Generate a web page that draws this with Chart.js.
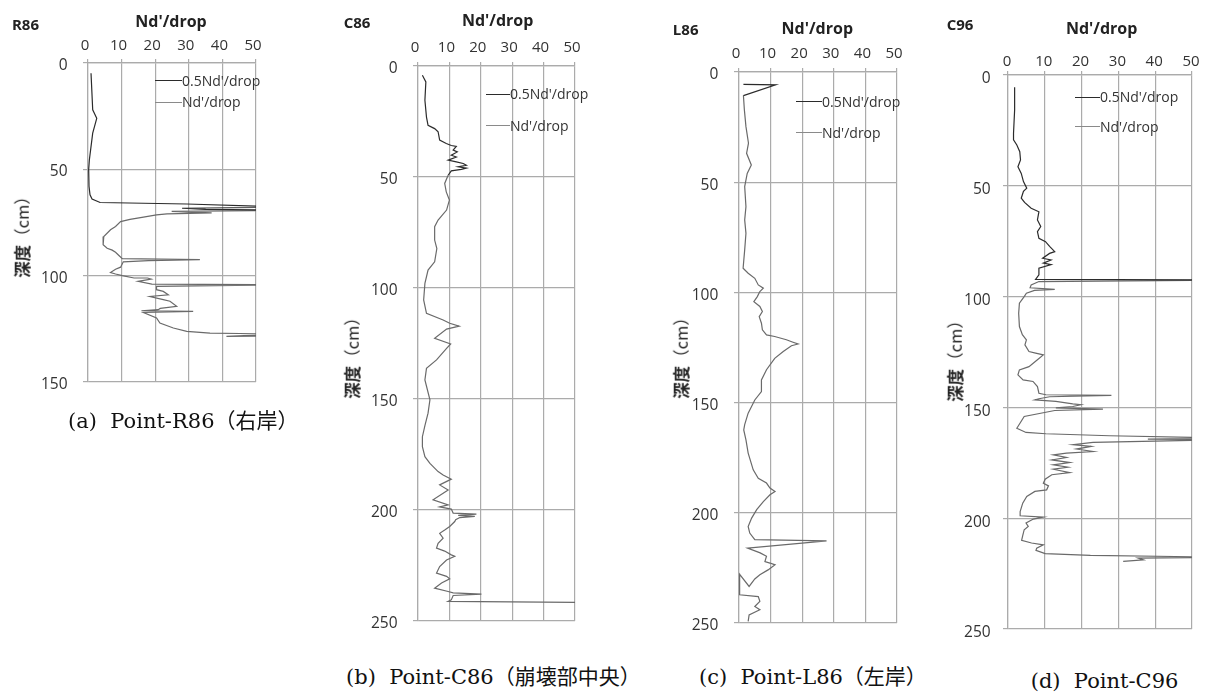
<!DOCTYPE html>
<html><head><meta charset="utf-8">
<script src="https://cdn.jsdelivr.net/npm/chart.js@4.4.1/dist/chart.umd.min.js"></script>
<style>
html,body{margin:0;padding:0;background:#fff;}
body{width:1208px;height:693px;position:relative;overflow:hidden;font-family:'Open Sans','Noto Sans',sans-serif;color:#222;}
canvas{position:absolute;z-index:1;}
.t{position:absolute;z-index:2;white-space:pre;line-height:1;transform:translate(-50%,-50%);}
.id{font-weight:700;font-size:15px;color:#222;}
.ttl{font-weight:700;font-size:16px;color:#222;}
.yt{font-family:'Noto Sans CJK JP',sans-serif;font-size:16.5px;color:#222;transform:translate(-50%,-50%) rotate(-90deg);}
.yt b{font-weight:700;}
.cap{position:absolute;z-index:2;white-space:pre;line-height:1;font-family:'DejaVu Serif','Noto Sans CJK JP',serif;font-size:21px;color:#111;transform:translateY(-50%);}
.lg{position:absolute;z-index:2;white-space:pre;line-height:1;font-size:14px;color:#333;transform:translateY(-50%);}
.ln{position:absolute;z-index:2;height:0;}
</style></head><body>
<script>
// ---------- text ----------
const panelIds = ['R86', 'C86', 'L86', 'C96'];
const captions = ['(a)  Point-R86（右岸）', '(b)  Point-C86（崩壊部中央）', '(c)  Point-L86（左岸）', '(d)  Point-C96'];
const seriesLabels = ["0.5Nd'/drop", "Nd'/drop"];
const valueTitle = "Nd'/drop";
const depthTitleMain = '深度';
const depthTitleUnit = '（cm）';

// ---------- ticks ----------
const valueTicks = [0, 10, 20, 30, 40, 50];
const depthTicks150 = [0, 50, 100, 150];
const depthTicks250 = [0, 50, 100, 150, 200, 250];

// ---------- data: R86 ----------
const r86HalfVal = [0.9, 1.4, 2.6, 1.4, 0.4, 0.2, 0.3, 0.6, 1.2, 3.6, 29.4, 60, 28, 35, 60];
const r86HalfDepth = [4.8, 22, 26, 33, 45.6, 50, 58, 62, 64, 65.6, 66.3, 67.8, 68.3, 68.8, 69.3];
const r86FullVal = [60, 24.9, 36.8, 23.5, 20.4, 16.5, 12.5, 9.7, 8.2, 6.7, 4.7, 4.5, 5.7, 7.2, 8.2, 9.2, 10.2, 33.3, 18, 10.5, 9.7, 8.2, 6.7, 8.2, 10.2, 13.7, 17.7, 18.8, 14.9, 19, 60, 20.4, 20.4, 22.4, 23.9, 18.4, 22.4, 24.4, 26.4, 21.5, 20.9, 15.9, 31.3, 16.5, 20.4, 21.4, 25.4, 29.4, 36.3, 45.2, 60, 41.2, 60];
const r86FullDepth = [69.3, 69.8, 70.5, 70.9, 71.4, 72.5, 73.5, 74.6, 76.9, 78.4, 81.6, 85.5, 87.1, 88, 89, 90.5, 92, 92.5, 92.9, 93.5, 96, 97, 98.5, 99.2, 100, 101.1, 101.1, 101.6, 102.7, 104, 104.3, 105, 106.6, 107.4, 109, 109.8, 111.3, 112, 114.4, 115.4, 116, 116.5, 116.8, 117.3, 119.9, 122.3, 124.6, 126.2, 127, 127.2, 127.6, 128.5, 128.3];

// ---------- data: C86 ----------
const c86HalfVal = [1.4, 2.5, 2.2, 2.7, 3.2, 5.3, 6.4, 6.9, 9.0, 10.6, 12.2, 11.2, 12.5, 10.6, 12.2, 9.6, 12.2, 14.4, 15.4, 12.8, 15.4, 13.8, 10.6, 9.6];
const c86HalfDepth = [4.2, 7.2, 15.4, 23, 26.7, 28.2, 29.6, 33.4, 34.9, 35.8, 36.2, 37.9, 38.7, 40.2, 41.0, 42.4, 43.2, 43.9, 44.7, 45.4, 46.0, 46.6, 47.2, 49.2];
const c86FullVal = [9.6, 8.5, 9.0, 10.0, 9.1, 6.4, 5.3, 5.3, 6.0, 5.3, 3.2, 2.2, 1.8, 2.7, 8.0, 10.1, 13.1, 9.1, 5.3, 10.4, 9.1, 5.9, 2.7, 2.2, 3.8, 3.2, 2.2, 1.4, 1.4, 2.2, 3.8, 6.4, 8.0, 10.6, 6.9, 9.6, 4.8, 9.6, 6.9, 10.6, 11.2, 18.6, 12.8, 18.1, 13.3, 12.0, 11.7, 10.1, 8.5, 6.9, 8.0, 6.4, 5.9, 8.5, 10.6, 11.7, 9.1, 6.9, 5.9, 9.1, 10.1, 7.5, 5.3, 9.6, 11.2, 20.2, 11.2, 10.6, 9.6, 60];
const c86FullDepth = [49.2, 52.9, 56.7, 60.4, 64.9, 69.4, 72.4, 78.4, 82.2, 88.2, 91.9, 97.9, 105.4, 111.4, 114.4, 115.9, 117.2, 118.5, 122.7, 125.2, 127.2, 132.4, 136.2, 141.4, 150.4, 156.4, 162, 167, 171.5, 176, 179, 182.7, 184.2, 186.1, 188.7, 191, 195.4, 197.7, 198.6, 199.6, 201.4, 201.9, 202.4, 202.9, 203.4, 204.4, 205.2, 207.4, 209, 210.5, 212.7, 215, 217.2, 218.5, 220.2, 220.8, 222.5, 225.5, 228.4, 229.9, 231, 232.9, 235.2, 236.7, 237.3, 237.9, 238.5, 240.5, 241.2, 241.7];

// ---------- data: L86 ----------
const l86HalfVal = [1.4, 11.6, 1.4];
const l86HalfDepth = [5.6, 5.8, 10.7];
const l86FullVal = [1.4, 1.7, 2.2, 3.0, 2.4, 3.9, 2.6, 1.8, 2.2, 1.8, 2.2, 1.8, 1.3, 2.9, 5.0, 6.1, 7.7, 6.6, 5.8, 4.7, 6.6, 7.4, 6.4, 7.1, 7.4, 8.7, 11.3, 15, 17.1, 18.7, 16.6, 14, 11.3, 8.7, 7.1, 7.1, 5.0, 2.9, 1.8, 1.5, 2.2, 2.9, 4.5, 6.1, 8.7, 9.8, 11.4, 9.8, 7.7, 5.6, 4.0, 2.9, 3.4, 5.0, 27.7, 2.7, 6.7, 8.7, 8.2, 9.8, 11.4, 9.2, 6.6, 5.0, 3.2, 0.1, 0.2, 6.1, 6.6, 5.0, 6.6, 3.2, 2.9];
const l86FullDepth = [10.7, 17.2, 24.8, 32.3, 36.9, 42.2, 46, 52, 61.1, 67.1, 73.2, 80.7, 89, 91.3, 93.6, 96.6, 98.1, 99.6, 101.9, 104.2, 106.4, 108.7, 111, 114, 117, 119.3, 120, 121.5, 122.6, 123.4, 124.2, 126.8, 129.9, 135.1, 139.7, 145, 148.8, 154.8, 160, 162.4, 166.9, 172.9, 180.5, 184.3, 186.5, 188.8, 190.3, 191.8, 194.9, 198.6, 202.4, 206.2, 209.2, 212.2, 212.7, 216, 218.2, 219.7, 222.1, 222.8, 223.6, 225.9, 228.1, 230, 233.4, 227.7, 237.2, 238, 240.2, 242.5, 244, 246.3, 249.3];

// ---------- data: C96 ----------
const c96HalfVal = [1.8, 1.8, 1.5, 1.5, 2.4, 3.2, 3.4, 2.7, 3.6, 4.2, 5.1, 4.2, 3.6, 4.5, 6.3, 8.4, 8.0, 8.9, 8.0, 8.4, 10.2, 11.3, 12.7, 11.3, 9.4, 11.7, 9.6, 11.7, 8.4, 8.4, 7.5, 60];
const c96HalfDepth = [5.5, 15.8, 26.3, 29.3, 31.6, 34.6, 38.3, 41.4, 44.4, 48.1, 51.1, 52.5, 55.6, 57.5, 60.1, 61.7, 65.4, 68.4, 70.7, 73.7, 75.2, 77.3, 79.7, 80.5, 82.7, 83.5, 84.9, 85.6, 87.2, 90.2, 92.2, 92.5];
const c96FullVal = [60, 8.4, 6.3, 6.0, 12.7, 7.2, 5.0, 4.4, 3.1, 2.9, 3.1, 3.9, 5.0, 4.6, 5.7, 7.5, 9.6, 8.0, 5.7, 3.1, 2.7, 4.1, 6.8, 8.0, 8.4, 10.3, 28.1, 11.3, 8.4, 7.3, 13.0, 17.6, 19.8, 17.6, 13.0, 25.8, 12.7, 4.4, 2.7, 2.4, 4.9, 10.3, 27.6, 60, 38, 60, 23.1, 17.7, 22.6, 18.6, 23.1, 15.9, 12.3, 15.9, 11.9, 16.8, 12.3, 16.3, 12.3, 16.8, 11.9, 10.1, 9.6, 11.0, 10.5, 7.3, 5.1, 4.0, 3.3, 3.3, 9.6, 6.9, 4.9, 5.5, 4.4, 4.0, 3.7, 6.4, 9.6, 7.8, 7.6, 10.1, 22.4, 60, 35.4, 36.8, 31.3];
const c96FullDepth = [92.5, 93.2, 94.7, 96.0, 96.7, 97.2, 98.5, 100, 103, 107.5, 113.5, 117.2, 119.5, 121.8, 124.8, 125.5, 126.3, 128.5, 131.6, 133.1, 135.3, 137.6, 138.3, 140.6, 143.6, 144.3, 144.6, 145.2, 146.1, 146.6, 147.3, 148.4, 148.8, 149.6, 150.2, 150.8, 151.4, 154.1, 158.6, 159.4, 161.3, 161.9, 162.8, 163.9, 164.3, 164.6, 165.8, 166.8, 167.6, 168.8, 169.9, 170.6, 171.4, 172.6, 173.7, 174.9, 175.9, 177, 177.9, 179.4, 180.4, 182.4, 184.2, 185.4, 187.2, 187.9, 190.2, 193.2, 197, 198.9, 199.5, 200.4, 202.2, 203.7, 205.2, 207.9, 210, 211.2, 212, 213.5, 214.5, 216, 216.8, 217.6, 218, 218.8, 219.5];

// ---------- style / layout ----------
const DARK = '#2b2b2b', GRAY = '#6a6a6a', GRID = '#ababab';
const SANS = "'Open Sans','Noto Sans',sans-serif";
const WY = 70, HX = 40, PR = 18, PB = 34;

const panels = [
  { L: 88, T: 63, R: 256, B: 382, dTicks: depthTicks150, half: [r86HalfVal, r86HalfDepth], full: [r86FullVal, r86FullDepth],
    xPad: 4, xOff: -3, yPad: 15.5, yOff: 2.5,
    id: [25.5, 24], ttl: [171, 21], yt: [22, 232.5], cap: [68, 421], lg: [155, 182, 80.7, 102.3] },
  { L: 418, T: 66, R: 575, B: 621, dTicks: depthTicks250, half: [c86HalfVal, c86HalfDepth], full: [c86FullVal, c86FullDepth],
    xPad: 5.5, xOff: -3, yPad: 15.5, yOff: 2.5,
    id: [357, 21.5], ttl: [497.7, 20], yt: [352.3, 354], cap: [346, 676.5], lg: [485.7, 510, 94.3, 125.7] },
  { L: 739, T: 72, R: 897, B: 623, dTicks: depthTicks250, half: [l86HalfVal, l86HalfDepth], full: [l86FullVal, l86FullDepth],
    xPad: 5, xOff: -3, yPad: 15.7, yOff: 3,
    id: [685.7, 28.7], ttl: [817.3, 27.8], yt: [680.7, 354], cap: [699, 676.5], lg: [795.7, 822, 101.7, 132.7] },
  { L: 1008, T: 75, R: 1192, B: 629, dTicks: depthTicks250, half: [c96HalfVal, c96HalfDepth], full: [c96FullVal, c96FullDepth],
    xPad: 0.5, xOff: -1, yPad: 12.3, yOff: 4,
    id: [960, 23.5], ttl: [1101.7, 27.5], yt: [955, 356.7], cap: [1030.7, 680.5], lg: [1075, 1100, 97.3, 126.7] }
];

const pts = (xs, ys) => xs.map((x, i) => ({ x: x, y: ys[i] }));

function addText(cls, txt, x, y, html) {
  const d = document.createElement('div');
  d.className = cls;
  if (html) d.innerHTML = txt; else d.textContent = txt;
  d.style.left = x + 'px';
  d.style.top = y + 'px';
  document.body.appendChild(d);
  return d;
}

function makePanel(p, i) {
  const cv = document.createElement('canvas');
  const W = (p.R - p.L) + WY + PR, H = (p.B - p.T) + HX + PB;
  cv.width = W; cv.height = H;
  cv.style.left = (p.L - WY) + 'px';
  cv.style.top = (p.T - HX) + 'px';
  cv.style.width = W + 'px';
  cv.style.height = H + 'px';
  document.body.appendChild(cv);

  const lineDs = (label, arr, color) => ({
    label: label, data: pts(arr[0], arr[1]), showLine: true, borderColor: color,
    backgroundColor: color, borderWidth: 1.2, pointRadius: 0, pointHoverRadius: 0, tension: 0, fill: false
  });

  new Chart(cv, {
    type: 'scatter',
    data: { datasets: [lineDs(seriesLabels[0], p.half, DARK), lineDs(seriesLabels[1], p.full, GRAY)] },
    options: {
      responsive: false, animation: false, events: [], devicePixelRatio: 1,
      layout: { padding: { left: 0, top: 0, right: PR, bottom: PB } },
      plugins: { legend: { display: false }, tooltip: { enabled: false }, title: { display: false } },
      scales: {
        x: {
          type: 'linear', position: 'top', min: 0, max: 50,
          afterBuildTicks: s => { s.ticks = valueTicks.map(v => ({ value: v })); },
          ticks: { padding: p.xPad, labelOffset: p.xOff, autoSkip: false, maxRotation: 0,
                   font: { family: SANS, size: 15 }, color: '#333' },
          grid: { color: GRID, lineWidth: 1.2, tickLength: 4 },
          border: { color: GRID, width: 1.2 },
          afterFit: s => { s.height = HX; }
        },
        y: {
          type: 'linear', position: 'left', reverse: true, min: 0, max: p.dTicks[p.dTicks.length - 1],
          afterBuildTicks: s => { s.ticks = p.dTicks.map(v => ({ value: v })); },
          ticks: { padding: p.yPad, labelOffset: p.yOff, autoSkip: false,
                   font: { family: SANS, size: 15.5 }, color: '#333' },
          grid: { color: GRID, lineWidth: 1.2, tickLength: 5 },
          border: { color: GRID, width: 1.2 },
          afterFit: s => { s.width = WY; }
        }
      }
    }
  });

  // annotation text
  addText('t id', panelIds[i], p.id[0], p.id[1]);
  addText('t ttl', valueTitle, p.ttl[0], p.ttl[1]);
  addText('t yt', '<b>' + depthTitleMain + '</b>' + depthTitleUnit, p.yt[0], p.yt[1], true);
  addText('cap', captions[i], p.cap[0], p.cap[1]);

  // legend inside plot
  const [lx0, lx1, ly0, ly1] = p.lg;
  [[ly0, DARK], [ly1, '#8a8a8a']].forEach((e, k) => {
    const ln = document.createElement('div');
    ln.className = 'ln';
    ln.style.left = lx0 + 'px';
    ln.style.width = (lx1 - lx0) + 'px';
    ln.style.top = (e[0] - 0.5) + 'px';
    ln.style.borderTop = '1.2px solid ' + e[1];
    document.body.appendChild(ln);
    addText('lg', seriesLabels[k], lx1, e[0]);
  });
}

panels.forEach(makePanel);
</script>
</body></html>
